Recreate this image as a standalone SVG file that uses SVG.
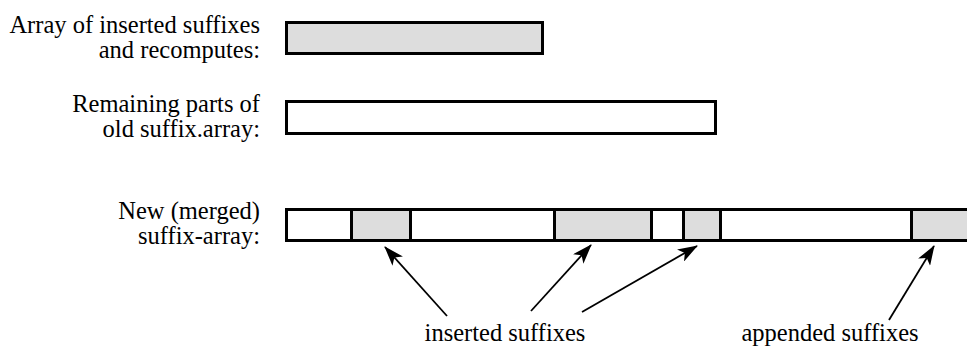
<svg xmlns="http://www.w3.org/2000/svg" width="967" height="349" viewBox="0 0 967 349">
  <defs>
    <style>
      .lbl { font-family: "Liberation Serif", "Times New Roman", serif; font-size: 24.5px; fill: #000; }
      .r { text-anchor: end; }
      .m { text-anchor: middle; }
      .bar { stroke: #000; stroke-width: 3; fill: #fff; }
      .seg { stroke: #000; stroke-width: 3; fill: #dddddd; }
      .arr { stroke: #000; stroke-width: 1.8; fill: none; marker-end: url(#head); }
    </style>
    <marker id="head" viewBox="0 0 20 14" refX="19" refY="7" markerWidth="20" markerHeight="14" markerUnits="userSpaceOnUse" orient="auto">
      <path d="M0,0 L20,7 L0,14 L5,7 Z" fill="#000"/>
    </marker>
  </defs>

  <rect width="967" height="349" fill="#fff"/>

  <!-- inserted suffixes and recomputes -->
  <g id="inserted-array">
    <text class="lbl r" x="260" y="33">Array of inserted suffixes</text>
    <text class="lbl r" x="260" y="58">and recomputes:</text>
    <rect class="seg" x="286.5" y="22.5" width="256" height="31"/>
  </g>

  <!-- remaining old array -->
  <g id="old-array">
    <text class="lbl r" x="260" y="112">Remaining parts of</text>
    <text class="lbl r" x="260" y="137">old suffix.array:</text>
    <rect class="bar" x="286.5" y="101.5" width="429" height="32"/>
  </g>

  <!-- merged array -->
  <g id="merged-array">
    <text class="lbl r" x="260" y="219">New (merged)</text>
    <text class="lbl r" x="260" y="244">suffix-array:</text>
    <rect class="bar" x="286.5" y="209.5" width="690" height="31"/>
    <rect class="seg" x="351.5" y="209.5" width="59" height="31"/>
    <rect class="seg" x="554.5" y="209.5" width="97" height="31"/>
    <rect class="seg" x="683.5" y="209.5" width="37" height="31"/>
    <rect class="seg" x="911.5" y="209.5" width="65" height="31"/>
  </g>

  <g id="inserted-label">
    <text class="lbl m" x="505" y="341">inserted suffixes</text>
  </g>
  <g id="appended-label">
    <text class="lbl m" x="830" y="341">appended suffixes</text>
  </g>

  <g id="connectors">
    <line class="arr" x1="447" y1="316" x2="385" y2="247"/>
    <line class="arr" x1="531" y1="311" x2="591" y2="245"/>
    <line class="arr" x1="582" y1="312" x2="697" y2="246"/>
    <line class="arr" x1="889" y1="320" x2="934" y2="246"/>
  </g>
</svg>
